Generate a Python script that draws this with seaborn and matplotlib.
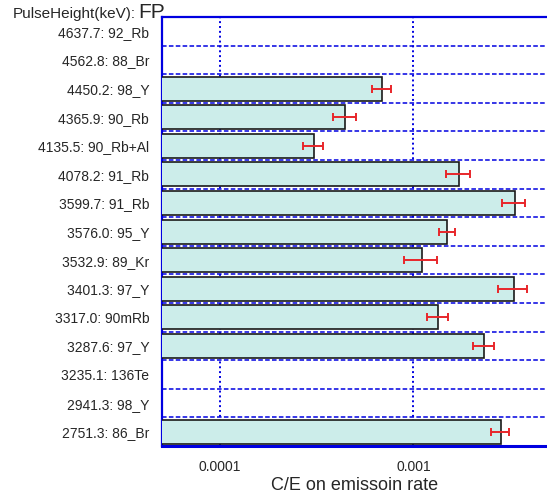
import numpy as np
import pandas as pd
import seaborn as sns
import matplotlib
matplotlib.use("Agg")
import matplotlib.pyplot as plt

# data
labels = ["4637.7: 92_Rb", "4562.8: 88_Br", "4450.2: 98_Y", "4365.9: 90_Rb",
          "4135.5: 90_Rb+Al", "4078.2: 91_Rb", "3599.7: 91_Rb", "3576.0: 95_Y",
          "3532.9: 89_Kr", "3401.3: 97_Y", "3317.0: 90mRb", "3287.6: 97_Y",
          "3235.1: 136Te", "2941.3: 98_Y", "2751.3: 86_Br"]
ce_ratio = [np.nan, np.nan, 6.9e-4, 4.45e-4, 3.05e-4, 1.72e-3, 3.33e-3, 1.49e-3,
            1.11e-3, 3.29e-3, 1.34e-3, 2.32e-3, np.nan, np.nan, 2.82e-3]
ce_err = [np.nan, np.nan, 8e-5, 6e-5, 3.6e-5, 2.5e-4, 4.6e-4, 1.4e-4,
          2.2e-4, 5.6e-4, 1.7e-4, 3.0e-4, np.nan, np.nan, 2.9e-4]
xticks = [1e-4, 1e-3]
xticklabels = ["0.0001", "0.001"]

df = pd.DataFrame({"label": labels, "ce": ce_ratio, "err": ce_err})

sns.set_style("white")
plt.rcParams["font.family"] = ["Liberation Sans", "DejaVu Sans"]

blue = "#0000e0"
fig = plt.figure(figsize=(5.47, 4.97), dpi=100)
ax = fig.add_axes([0.2956, 0.1026, 0.7044, 0.863])

sns.barplot(data=df, x="ce", y="label", order=labels, orient="h",
            color="#ccedea", saturation=1, edgecolor="#1a1a1a", linewidth=1.2,
            width=0.84, errorbar=None, ax=ax, zorder=3)
ax.errorbar(df["ce"], np.arange(len(labels)), xerr=df["err"], fmt="none",
            ecolor="#e8262a", elinewidth=1.4, capsize=3, capthick=1.4, zorder=4)

ax.set_xscale("log")
ax.set_xlim(5e-5, 4.9e-3)
ax.set_ylim(len(labels) - 0.5, -0.5)
ax.set_xticks(xticks)
ax.set_xticklabels(xticklabels)
ax.minorticks_off()

# grid: dashed between rows, dotted at decades
for i in range(len(labels) - 1):
    ax.axhline(i + 0.5, color=blue, lw=1.1, ls=(0, (3, 1.5)), zorder=2)
for xv in xticks:
    ax.axvline(xv, color=blue, lw=1.4, ls=(0, (1, 1.5)), zorder=1)

for side in ["left", "top", "bottom"]:
    ax.spines[side].set_color(blue)
    ax.spines[side].set_linewidth(1.6)
ax.spines["bottom"].set_linewidth(2.2)
ax.spines["right"].set_visible(False)

ax.tick_params(axis="x", direction="in", length=4, color=blue, labelsize=10, pad=10)
ax.tick_params(axis="y", length=0, labelsize=10, pad=9)
ax.set_ylabel("")
ax.set_xlabel("C/E on emissoin rate", fontsize=13, labelpad=2)

fig.text(0.023, 0.963, "PulseHeight(keV):", fontsize=11, va="baseline", ha="left")
fig.text(0.252, 0.963, "FP", fontsize=15, va="baseline", ha="left")

fig.savefig("out.png", dpi=100)
